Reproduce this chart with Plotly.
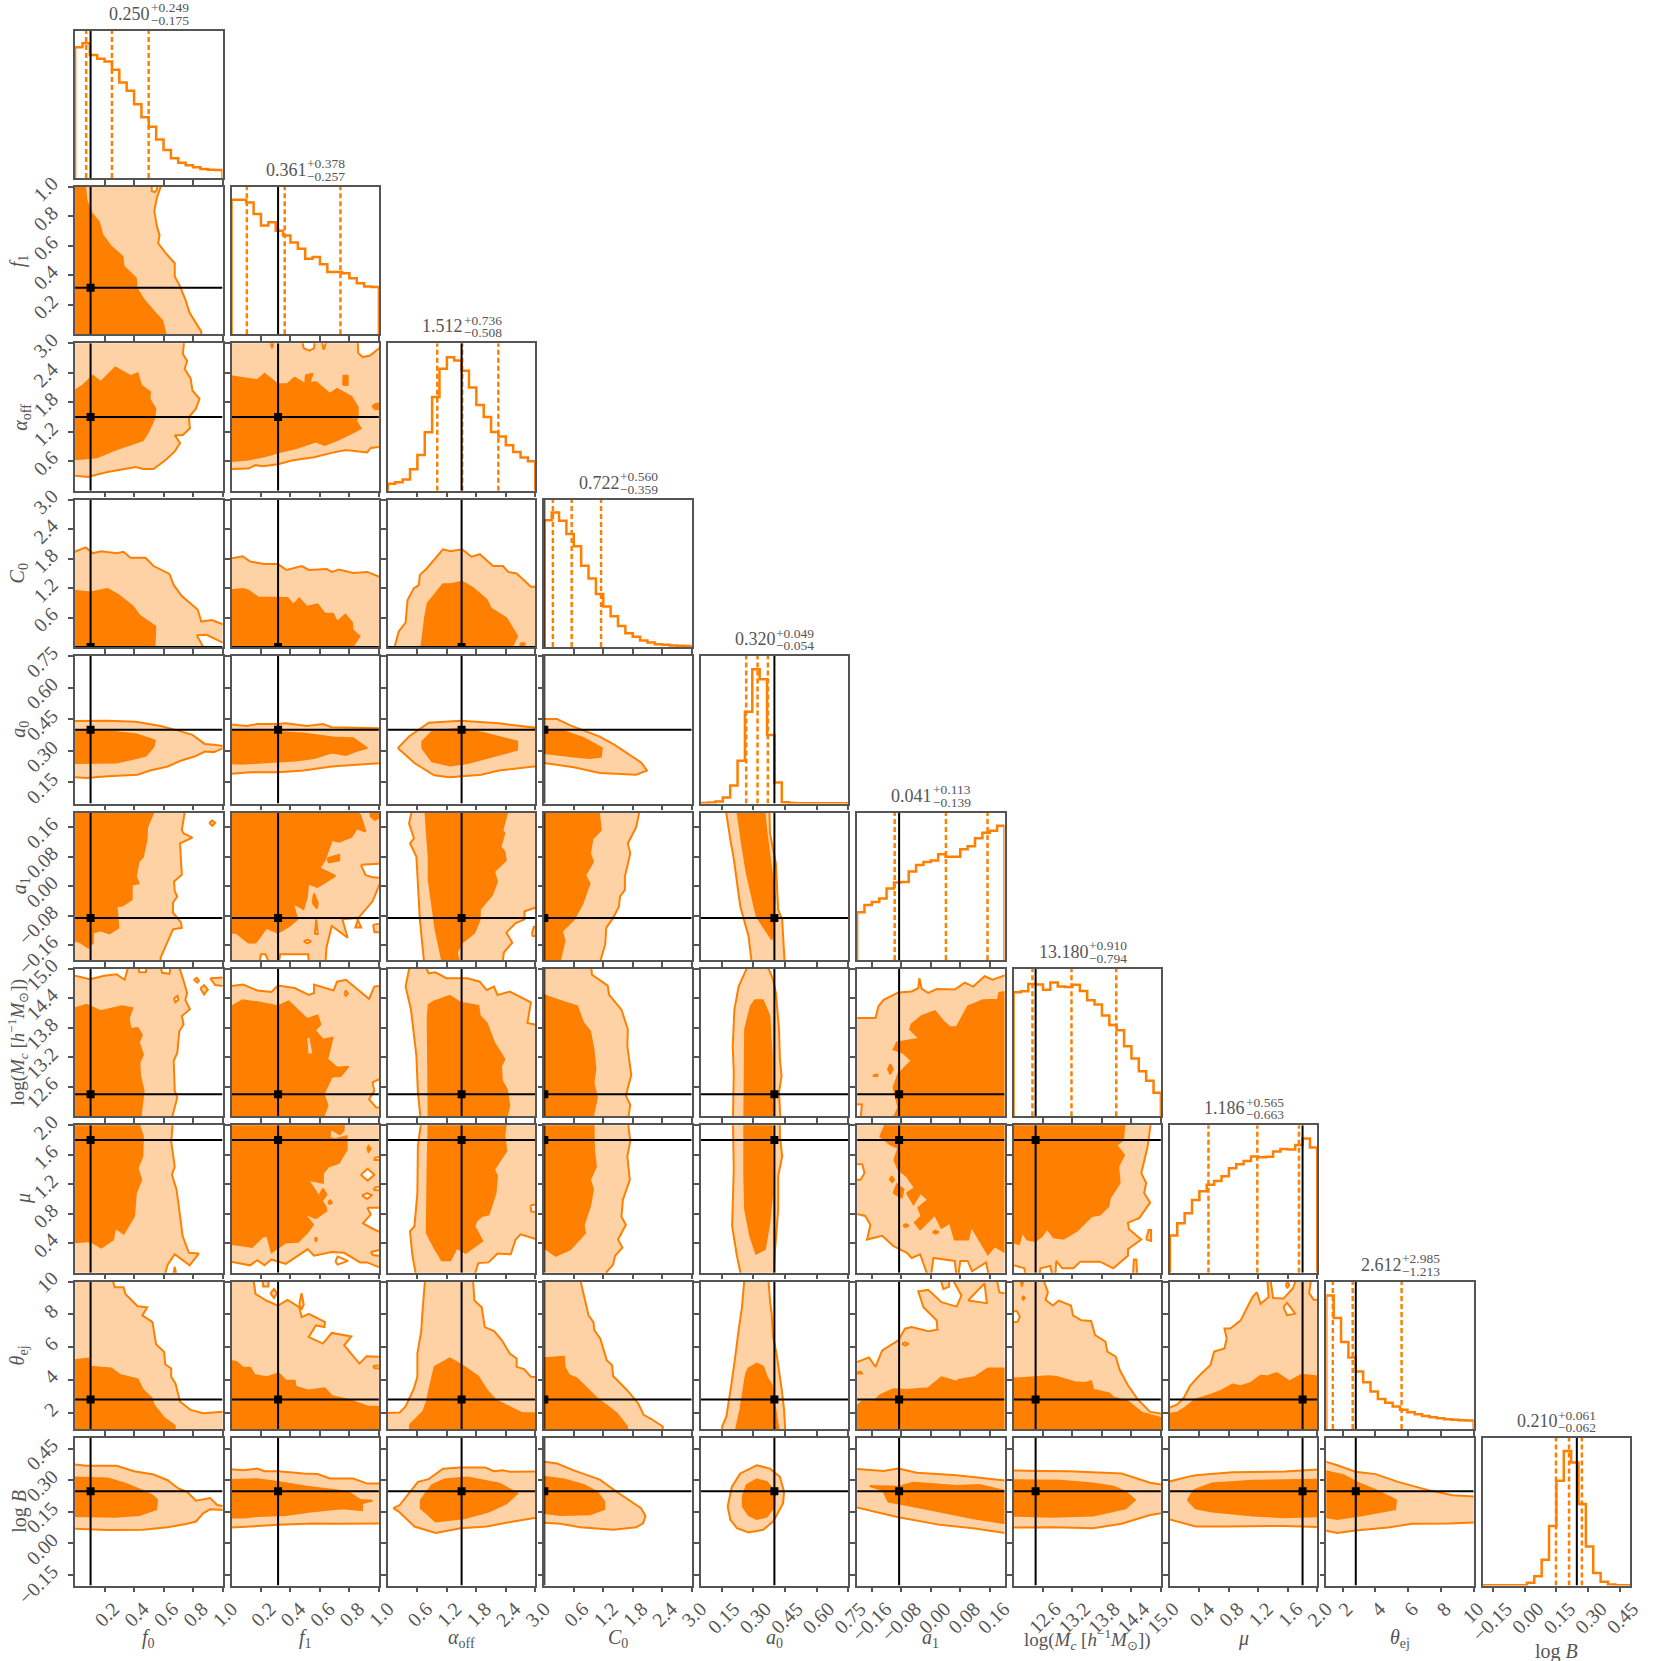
import numpy as np
import plotly.graph_objects as go

SIZE = 1661
ORANGE = "#ff7f00"
LIGHT = "#ffd2a6"
GREY = "#555555"
TEXT = "#555555"
SERIF = "Liberation Serif"
TICK_SIZE = 20

params = ["f0", "f1", "alpha", "C0", "a0", "a1", "Mc", "mu", "th", "B"]
ranges = [(0, 1), (0, 1), (0, 3), (0, 3), (0.05, 0.75), (-0.2, 0.2), (12, 15), (0, 2), (1, 10), (-0.2, 0.5)]
truths = [0.105, 0.316, 1.5, 0.0, 0.4, -0.086, 12.45, 1.8, 2.8, 0.247]
labels = ["<i>f</i><sub>0</sub>", "<i>f</i><sub>1</sub>", "<i>α</i><sub>off</sub>", "<i>C</i><sub>0</sub>",
          "<i>a</i><sub>0</sub>", "<i>a</i><sub>1</sub>",
          "log(<i>M</i><sub><i>c</i></sub> [<i>h</i><sup>−1</sup><i>M</i><sub>⊙</sub>])",
          "<i>μ</i>", "<i>θ</i><sub>ej</sub>", "log <i>B</i>"]
tick_vals = [[0.2, 0.4, 0.6, 0.8, 1.0], [0.2, 0.4, 0.6, 0.8, 1.0], [0.6, 1.2, 1.8, 2.4, 3.0], [0.6, 1.2, 1.8, 2.4, 3.0],
             [0.15, 0.30, 0.45, 0.60, 0.75], [-0.16, -0.08, 0.0, 0.08, 0.16], [12.6, 13.2, 13.8, 14.4, 15.0],
             [0.4, 0.8, 1.2, 1.6, 2.0], [2, 4, 6, 8, 10], [-0.15, 0.0, 0.15, 0.30, 0.45]]
tick_text = [["0.2", "0.4", "0.6", "0.8", "1.0"], ["0.2", "0.4", "0.6", "0.8", "1.0"],
             ["0.6", "1.2", "1.8", "2.4", "3.0"], ["0.6", "1.2", "1.8", "2.4", "3.0"],
             ["0.15", "0.30", "0.45", "0.60", "0.75"], ["−0.16", "−0.08", "0.00", "0.08", "0.16"],
             ["12.6", "13.2", "13.8", "14.4", "15.0"], ["0.4", "0.8", "1.2", "1.6", "2.0"],
             ["2", "4", "6", "8", "10"], ["−0.15", "0.00", "0.15", "0.30", "0.45"]]

title_med = ["0.250", "0.361", "1.512", "0.722", "0.320", "0.041", "13.180", "1.186", "2.612", "0.210"]
title_hi = ["+0.249", "+0.378", "+0.736", "+0.560", "+0.049", "+0.113", "+0.910", "+0.565", "+2.985", "+0.061"]
title_lo = ["−0.175", "−0.257", "−0.508", "−0.359", "−0.054", "−0.139", "−0.794", "−0.663", "−1.213", "−0.062"]
# dashed lines as drawn; the C0 ones do not sit where its title says
q16 = [0.075, 0.104, 1.004, 0.175, 0.266, -0.098, 12.386, 0.523, 1.399, 0.148]
q50 = [0.250, 0.361, 1.512, 0.557, 0.320, 0.041, 13.180, 1.186, 2.612, 0.210]
q84 = [0.499, 0.739, 2.248, 1.155, 0.369, 0.154, 14.090, 1.751, 5.597, 0.271]

# histogram heights, as a fraction of the panel height
hist_f0 = [.886, .913, .834, .808, .79, .734, .647, .591, .499, .412, .347, .26, .19, .134, .103, .085, .072, .06, .056, .054]
hist_f1 = [.913, .913, .895, .816, .738, .76, .702, .67, .623, .581, .513, .525, .475, .423, .423, .414, .381, .347, .325, .321]
hist_alpha = [.047, .058, .076, .145, .242, .396, .635, .828, .906, .884, .814, .7, .582, .5, .398, .367, .309, .262, .226, .199]
hist_C0 = [.861, .913, .857, .767, .684, .552, .466, .361, .276, .209, .143, .094, .07, .045, .031, .02, .016, .011, .009, .007]
hist_a0 = [.004, .007, .013, .04, .122, .29, .622, .91, .843, .465, .142, .009, .004, .002, .002, .002, .002, .002, .002, .002]
hist_a1 = [.323, .372, .392, .417, .484, .525, .529, .599, .643, .664, .675, .717, .7, .7, .751, .771, .825, .863, .877, .91]
hist_Mc = [.841, .848, .897, .895, .859, .908, .881, .877, .892, .85, .787, .758, .684, .619, .583, .475, .392, .305, .242, .159]
hist_mu = [.252, .335, .404, .494, .553, .596, .622, .654, .708, .735, .757, .789, .784, .787, .822, .84, .836, .867, .91, .849]
hist_th = [.906, .754, .591, .485, .391, .318, .255, .204, .179, .154, .132, .114, .101, .089, .081, .074, .067, .063, .06, .058]
hist_B = [.002, .002, .002, .002, .002, .002, .018, .063, .175, .404, .71, .912, .834, .553, .265, .085, .025, .007, .002, .002]

# contour outlines, (x, y) in data units
f1_f0_outer = [(0, 1), (.592, 1), (.556, .93), (.537, .836), (.556, .729), (.573, .673), (.564, .617), (.616, .549), (.676, .482), (.676, .392), (.712, .325), (.748, .235), (.777, .146), (.856, .018), (.856, 0), (0, 0)]
f1_f0_inner = [(0, 1), (.065, 1), (.077, .908), (.113, .818), (.161, .762), (.185, .673), (.245, .594), (.321, .527), (.329, .46), (.412, .381), (.417, .314), (.465, .235), (.532, .157), (.592, .09), (.621, 0), (0, 0)]
f1_f0_holes = [[(.52, 1), (.52, .97), (.54, .965), (.555, .98), (.555, 1)]]

alpha_f0_outer = [(0, 3), (.741, 3), (.731, 2.78), (.76, 2.64), (.743, 2.48), (.784, 2.28), (.796, 2.04), (.844, 1.87), (.82, 1.67), (.772, 1.5), (.779, 1.27), (.729, 1.13), (.676, 1.13), (.712, .97), (.676, .8), (.616, .63), (.532, .44), (.46, .44), (.412, .48), (.316, .43), (.22, .38), (.149, .33), (.089, .28), (0, .31)]
alpha_f0_inner = [(0, 1.99), (.053, 2.14), (.12, 2.34), (.173, 2.21), (.273, 2.51), (.376, 2.33), (.424, 2.39), (.448, 2.14), (.508, 2.01), (.504, 1.87), (.544, 1.67), (.537, 1.47), (.496, 1.2), (.46, 1.03), (.364, .93), (.269, .83), (.149, .68), (0, .63)]

alpha_f1_outer = [(0, .44), (.115, .45), (.163, .52), (.212, .5), (.315, .54), (.416, .62), (.56, .68), (.68, .77), (.776, .83), (.92, .78), (.944, .87), (1, .9), (1, 3), (0, 3)]
alpha_f1_inner = [(0, 2.34), (.175, 2.25), (.224, 2.38), (.315, 2.16), (.38, 2.17), (.428, 2.3), (.5, 2.17), (.572, 2.21), (.668, 1.97), (.716, 2.07), (.813, 1.91), (.856, 1.7), (.856, 1.5), (.844, 1.42), (.877, 1.27), (.788, 1.13), (.716, 1.03), (.632, .93), (.572, 1.0), (.44, .87), (.344, .8), (.224, .7), (.103, .63), (0, .6)]
alpha_f1_holes = [[(.476, 3), (.49, 2.9), (.53, 2.85), (.56, 2.9), (.565, 3)], [(.608, 3), (.625, 2.87), (.65, 3)], [(.856, 3), (.86, 2.8), (.89, 2.72), (.94, 2.75), (.98, 2.85), (1, 2.97), (1, 3)], [(.26, 3), (.275, 2.9), (.29, 3)]]
alpha_f1_blobs = [[(.5, 2.18), (.505, 2.35), (.55, 2.38), (.53, 2.2)], [(.757, 2.15), (.76, 2.34), (.788, 2.34), (.788, 2.15)], [(.955, 1.72), (.98, 1.77), (1, 1.77), (1, 1.67), (.975, 1.66)]]

C0_f0_outer = [(0, 1.91), (.072, 2.03), (.12, 1.91), (.177, 1.95), (.281, 1.91), (.328, 1.94), (.376, 1.82), (.477, 1.82), (.532, 1.65), (.64, 1.49), (.669, 1.26), (.724, 1.04), (.832, .76), (.856, .52), (.928, .55), (1, .43), (1, 0), (0, 0)]
C0_f0_inner = [(0, 1.16), (.1, 1.11), (.221, 1.18), (.293, 1.06), (.393, .82), (.436, .64), (.544, .42), (.537, 0), (0, 0)]
C0_f0_holes = [[(.825, .24), (.892, .25), (1, .05), (1, 0), (.887, 0)]]

C0_f1_outer = [(0, 1.79), (.075, 1.85), (.127, 1.74), (.224, 1.69), (.315, 1.69), (.373, 1.57), (.476, 1.65), (.524, 1.57), (.644, 1.59), (.68, 1.53), (.728, 1.58), (.825, 1.51), (.921, 1.53), (1, 1.4), (1, 0), (0, 0)]
C0_f1_inner = [(0, 1.15), (.079, 1.18), (.115, 1.15), (.18, 1.01), (.38, 1.0), (.42, .86), (.459, .99), (.512, .82), (.584, .87), (.632, .68), (.688, .68), (.716, .51), (.772, .66), (.817, .5), (.82, .35), (.868, .22), (.8, 0), (0, 0)]

C0_alpha_outer = [(.11, 0), (.22, .32), (.36, .5), (.4, .96), (.53, 1.2), (.63, 1.26), (.65, 1.47), (.79, 1.6), (1.12, 1.99), (1.27, 1.95), (1.51, 1.99), (1.7, 1.84), (1.87, 1.89), (2.14, 1.65), (2.34, 1.65), (2.45, 1.53), (2.62, 1.5), (2.91, 1.23), (3, 1.23), (3, 0)]
C0_alpha_inner = [(.67, 0), (.76, .62), (.81, .89), (1.12, 1.28), (1.27, 1.28), (1.51, 1.33), (1.73, 1.2), (2.01, .96), (2.09, .79), (2.41, .59), (2.63, .22), (2.48, 0)]
C0_alpha_blobs = [[(2.7, .08), (2.78, .08), (2.78, 0), (2.7, 0)]]

a0_f0_outer = [(0, .442), (.221, .443), (.412, .438), (.58, .418), (.7, .396), (.796, .376), (.88, .333), (.94, .329), (1, .32), (.94, .294), (.88, .297), (.81, .273), (.72, .254), (.628, .226), (.508, .207), (.424, .187), (.221, .179), (.077, .171), (0, .176)]
a0_f0_inner = [(0, .396), (.125, .396), (.281, .388), (.412, .379), (.54, .349), (.532, .321), (.48, .277), (.388, .261), (.281, .245), (0, .242)]

a0_f1_outer = [(0, .427), (.103, .418), (.175, .427), (.315, .427), (.368, .431), (.512, .418), (.62, .427), (.68, .412), (1, .407), (1, .242), (.849, .234), (.68, .226), (.488, .207), (.315, .198), (.127, .198), (0, .19)]
a0_f1_inner = [(0, .396), (.293, .391), (.488, .383), (.692, .363), (.825, .36), (.92, .313), (.849, .3), (.776, .281), (.68, .292), (.56, .266), (.44, .254), (.315, .25), (.079, .239), (0, .242)]

a0_alpha_outer = [(.2, .313), (.43, .368), (.83, .434), (1.48, .443), (2.26, .431), (3, .407), (3, .229), (2.26, .207), (1.9, .187), (1.26, .175), (.94, .184), (.54, .242)]
a0_alpha_inner = [(.7, .313), (.7, .344), (.9, .391), (1.48, .407), (1.98, .383), (2.63, .344), (2.63, .305), (2.12, .273), (1.62, .242), (1.26, .231), (.9, .25)]

a0_C0_outer = [(0, .451), (.26, .451), (.54, .42), (1.13, .368), (1.43, .328), (1.97, .245), (2.09, .207), (1.87, .187), (1.13, .195), (.6, .222), (0, .245)]
a0_C0_inner = [(0, .396), (.33, .399), (.8, .36), (1.17, .313), (1.15, .273), (.93, .266), (.6, .273), (0, .292)]

a1_f0_outer = [(0, .2), (.748, .2), (.724, .152), (.736, .143), (.796, .132), (.712, .116), (.724, .031), (.671, .013), (.676, -.014), (.693, -.028), (.664, -.045), (.664, -.072), (.719, -.099), (.724, -.113), (.664, -.117), (.58, -.194), (.58, -.2), (0, -.2)]
a1_f0_inner = [(0, .2), (.544, .2), (.489, .161), (.484, .125), (.46, .08), (.431, .067), (.412, .027), (.431, .008), (.384, .004), (.384, -.036), (.317, -.053), (.281, -.054), (.293, -.113), (.233, -.128), (.173, -.12), (.12, -.126), (.12, -.153), (.089, -.167), (.041, -.153), (0, -.144)]
a1_f0_lobes = [[(.91, .172), (.93, .178), (.95, .172), (.93, .164)]]

a1_f1_outer = [(0, .2), (1, .2), (1, .03), (.957, -.041), (.861, -.086), (.84, -.112), (.88, -.112), (.85, -.086), (.752, -.09), (.788, -.14), (.68, -.108), (.644, -.167), (.637, -.2), (0, -.2)]
a1_f1_inner = [(0, .2), (.813, .2), (.873, .193), (.909, .148), (.849, .157), (.813, .134), (.728, .121), (.68, .125), (.632, .071), (.596, .049), (.704, .028), (.644, .013), (.584, -.002), (.519, .007), (.512, -.027), (.488, -.062), (.416, -.045), (.445, -.09), (.392, -.108), (.315, -.126), (.236, -.113), (.163, -.153), (.115, -.153), (.031, -.126), (0, -.126)]
a1_f1_holes = [[(.878, .058), (.91, .03), (.96, .024), (1, .022), (1, .062)], [(.187, -.2), (.2, -.185), (.23, -.185), (.26, -.2)], [(.32, -.2), (.33, -.185), (.52, -.185), (.525, -.2)], [(.565, -.13), (.575, -.09), (.585, -.13)], [(.49, -.15), (.515, -.145), (.54, -.15), (.515, -.155)]]
a1_f1_lobes = [[(.96, -.105), (1, -.1), (1, -.125), (.97, -.125)]]
a1_f1_blobs = [[(.94, .2), (.945, .19), (.97, .18), (1, .19), (1, .2)], [(.65, .075), (.73, .085), (.73, .07), (.66, .065)], [(.55, -.045), (.56, -.02), (.585, -.045), (.58, -.06)]]

a1_alpha_outer = [(.5, .2), (.43, .17), (.53, .13), (.45, .116), (.58, .08), (.61, .008), (.65, -.09), (.74, -.2), (2.33, -.2), (2.36, -.18), (2.53, -.153), (2.41, -.126), (2.6, -.1), (2.78, -.09), (2.78, -.068), (3, -.054), (3, .2)]
a1_alpha_inner = [(.76, .2), (.79, .152), (.83, .08), (.83, .018), (.97, -.117), (1.12, -.2), (1.46, -.2), (1.4, -.18), (1.51, -.153), (1.76, -.126), (1.87, -.09), (1.87, -.063), (2.12, -.023), (2.22, .013), (2.16, .04), (2.4, .071), (2.37, .094), (2.29, .107), (2.37, .143), (2.33, .152), (2.45, .2)]
a1_alpha_lobes = [[(2.93, -.13), (2.97, -.11), (3, -.11), (3, -.136), (2.95, -.135)]]

a1_C0_outer = [(1.95, .2), (1.87, .16), (1.7, .116), (1.75, .089), (1.64, .026), (1.64, -.01), (1.54, -.028), (1.52, -.055), (1.4, -.086), (1.26, -.113), (1.24, -.158), (1.12, -.2), (0, -.2), (0, .2)]
a1_C0_inner = [(1.1, .2), (1.15, .152), (.98, .129), (.93, .089), (.99, .066), (.83, .03), (.92, .008), (.78, -.046), (.6, -.09), (.36, -.122), (.41, -.149), (.3, -.2), (0, -.2), (0, .2)]

a1_a0_outer = [(.168, .2), (.191, .125), (.207, .075), (.238, -.055), (.277, -.135), (.293, -.2), (.449, -.2), (.437, -.091), (.418, -.064), (.407, .062), (.379, .143), (.376, .2)]
a1_a0_inner = [(.222, .2), (.246, .116), (.269, .035), (.316, -.082), (.387, -.144), (.394, -.135), (.402, -.028), (.363, .143), (.351, .2)]

Mc_f0_outer = [(0, 14.88), (.101, 14.79), (.197, 14.86), (.281, 14.89), (.336, 14.78), (.365, 15), (.7, 15), (.736, 14.76), (.76, 14.51), (.748, 14.37), (.779, 14.18), (.724, 14.04), (.736, 13.87), (.707, 13.73), (.693, 13.29), (.669, 13.13), (.676, 12.52), (.693, 12.38), (.652, 12), (0, 12)]
Mc_f0_inner = [(0, 14.17), (.077, 14.27), (.173, 14.14), (.317, 14.24), (.388, 14.2), (.364, 14), (.376, 13.77), (.424, 13.8), (.453, 13.66), (.432, 13.5), (.46, 13.26), (.436, 13.09), (.441, 12.82), (.465, 12.52), (.441, 12), (0, 12)]
Mc_f0_holes = [[(.43, 15), (.435, 14.93), (.48, 14.93), (.485, 15)], [(.577, 15), (.59, 14.92), (.64, 14.9), (.65, 15)], [(.67, 14.4), (.695, 14.45), (.7, 14.37), (.68, 14.32)]]
Mc_f0_lobes = [[(.916, 14.81), (1, 14.83), (1, 14.64), (.95, 14.67)], [(.805, 14.78), (.825, 14.82), (.84, 14.76), (.83, 14.72)], [(.85, 14.6), (.875, 14.67), (.9, 14.58), (.875, 14.48)]]

Mc_f1_outer = [(0, 14.64), (.079, 14.68), (.175, 14.56), (.271, 14.53), (.315, 14.66), (.428, 14.61), (.524, 14.47), (.56, 14.51), (.56, 14.68), (.692, 14.56), (.716, 14.74), (.776, 14.78), (.933, 14.39), (.969, 14.64), (1, 14.66), (1, 12), (0, 12)]
Mc_f1_inner = [(0, 14.18), (.075, 14.36), (.175, 14.32), (.315, 14.24), (.387, 14.34), (.512, 13.98), (.584, 14.05), (.603, 13.87), (.565, 13.75), (.62, 13.56), (.685, 13.6), (.649, 13.16), (.716, 12.99), (.793, 13.01), (.74, 12.82), (.68, 12.81), (.625, 12.45), (.651, 12.22), (.613, 12), (0, 12)]
Mc_f1_holes = [[(1, 12.79), (.957, 12.69), (.969, 12.52), (.933, 12.35), (.981, 12.18), (1, 12.18)], [(.765, 14.5), (.775, 14.55), (.79, 14.5), (.775, 14.45)]]
Mc_f1_slivers = [[(.522, 13.59), (.528, 13.3), (.54, 13.3)]]

Mc_alpha_outer = [(.45, 15), (.36, 14.64), (.47, 14.17), (.58, 13.23), (.61, 12.49), (.67, 12), (3, 12), (3, 13.85), (2.84, 13.9), (2.91, 14.32), (2.48, 14.54), (2.23, 14.47), (2.16, 14.64), (2.01, 14.57), (1.87, 14.74), (1.62, 14.81), (1.19, 14.81), (.97, 14.93), (.83, 14.91), (.75, 15)]
Mc_alpha_inner = [(.83, 12), (.81, 14), (.83, 14.27), (.94, 14.34), (1.26, 14.45), (1.48, 14.31), (1.84, 14.25), (1.87, 14.04), (2.01, 13.9), (2.16, 13.5), (2.37, 13.16), (2.3, 13.02), (2.32, 12.72), (2.42, 12.55), (2.47, 12.22), (2.4, 12)]

Mc_C0_outer = [(.95, 15), (.97, 14.88), (1.29, 14.66), (1.32, 14.47), (1.57, 14.17), (1.7, 13.77), (1.69, 13.43), (1.77, 12.84), (1.66, 12.42), (1.75, 12.23), (1.7, 12), (0, 12), (0, 15)]
Mc_C0_inner = [(0, 14.49), (.4, 14.32), (.67, 14.24), (.79, 13.9), (.93, 13.73), (1, 13.36), (1.04, 12.96), (1, 12.69), (1.07, 12.38), (.97, 12), (0, 12)]

Mc_a0_outer = [(.277, 15), (.23, 14.64), (.21, 14.17), (.202, 13.43), (.207, 12.89), (.203, 12), (.429, 12), (.422, 12.49), (.434, 12.82), (.426, 13.16), (.422, 13.77), (.407, 14.51), (.392, 14.81), (.363, 15)]
Mc_a0_inner = [(.257, 12), (.261, 13.77), (.288, 14.24), (.308, 14.36), (.345, 14.36), (.376, 14.04), (.387, 13.23), (.387, 12.62), (.394, 12)]

Mc_a1_outer = [(-.2, 14), (-.15, 14), (-.142, 14.24), (-.128, 14.37), (-.088, 14.52), (-.052, 14.54), (-.034, 14.61), (-.031, 14.81), (-.025, 14.6), (-.007, 14.51), (.016, 14.59), (.065, 14.58), (.092, 14.72), (.115, 14.64), (.146, 14.85), (.168, 14.78), (.2, 14.9), (.2, 12), (-.2, 12)]
Mc_a1_inner = [(-.104, 12), (-.088, 12.18), (-.101, 12.59), (-.088, 12.86), (-.052, 13.13), (-.074, 13.29), (-.101, 13.36), (-.092, 13.5), (-.079, 13.52), (-.031, 13.58), (-.056, 13.77), (-.052, 13.87), (-.025, 14.04), (.011, 14.14), (.034, 13.93), (.052, 13.81), (.07, 13.81), (.101, 14.24), (.142, 14.36), (.182, 14.37), (.186, 14.51), (.2, 14.54), (.2, 12)]
Mc_a1_holes = [[(-.2, 12.25), (-.187, 12.24), (-.191, 12), (-.2, 12)]]
Mc_a1_blobs = [[(-.11, 13.06), (-.103, 12.96), (-.11, 12.86), (-.116, 12.96)], [(-.155, 12.84), (-.145, 12.85), (-.145, 12.82), (-.155, 12.82)]]

mu_f0_outer = [(0, 2), (.664, 2), (.652, 1.78), (.676, 1.44), (.657, 1.33), (.688, 1.13), (.712, .77), (.729, .5), (.772, .27), (.839, .26), (.777, .1), (.676, .25), (.628, .11), (.604, 0), (0, 0)]
mu_f0_inner = [(0, 2), (.424, 2), (.46, 1.85), (.456, 1.58), (.424, 1.42), (.448, 1.26), (.412, 1.08), (.4, .77), (.329, .53), (.273, .61), (.257, .45), (.177, .34), (.101, .43), (0, .41)]
mu_f0_holes = [[(.665, 0), (.675, .08), (.69, 0)]]

mu_f1_outer = [(0, .16), (.127, .1), (.175, .17), (.224, .1), (.271, .18), (.368, .12), (.517, .32), (.56, .23), (.68, .28), (.764, .27), (.873, .14), (.921, .14), (1, .05), (1, 2), (0, 2)]
mu_f1_inner = [(0, 2), (.765, 2), (.76, 1.93), (.735, 1.88), (.7, 1.92), (.67, 1.95), (.665, 1.83), (.7, 1.81), (.781, 1.85), (.781, 1.67), (.728, 1.49), (.656, 1.44), (.62, 1.35), (.62, 1.22), (.519, 1.26), (.637, .9), (.644, .84), (.572, .74), (.488, .81), (.553, .65), (.512, .54), (.452, .42), (.368, .41), (.272, .28), (.243, .5), (.212, .49), (.139, .35), (0, .4)]
mu_f1_holes = [[(.921, .88), (1, .88), (1, .53), (.945, .61), (.892, .67), (.945, .79)], [(.877, 1.33), (.924, 1.41), (.969, 1.33), (.924, 1.25)], [(.885, 1.05), (.92, 1.08), (.952, 1.05), (.92, 1.0)], [(.965, 1.15), (1, 1.18), (1, 1.12), (.97, 1.12)], [(.97, 1.56), (1, 1.58), (1, 1.53), (.97, 1.53)], [(.945, .28), (1, .32), (1, .22), (.96, .24)], [(.705, .15), (.72, .22), (.79, .16), (.72, .11)]]
mu_f1_blobs = [[(.62, 1.14), (.644, 1.06), (.62, .99), (.6, 1.06)], [(.655, .96), (.67, .98), (.68, .95), (.665, .93)], [(.92, 1.68), (.93, 1.72), (.945, 1.68), (.93, 1.64)], [(.565, .45), (.572, .48), (.58, .45), (.572, .43)]]

mu_alpha_outer = [(.68, 2), (.61, 1.72), (.6, 1.08), (.54, .63), (.45, .56), (.5, .23), (.58, 0), (1.75, 0), (1.84, .13), (2.05, .14), (2.23, .26), (2.5, .25), (2.6, .45), (2.7, .52), (3, .44), (3, 2)]
mu_alpha_inner = [(.83, 2), (.81, 1.53), (.79, .54), (.96, .32), (1.1, .17), (1.27, .17), (1.4, .34), (1.58, .27), (1.92, .43), (1.76, .63), (1.8, .7), (1.91, .77), (2.05, .79), (2.19, 1.08), (2.22, 1.31), (2.16, 1.4), (2.41, 1.65), (2.37, 1.87), (2.41, 2)]
mu_alpha_holes = [[(2.9, .9), (2.93, .92), (3, .93), (3, .82), (2.92, .83)]]

mu_C0_outer = [(0, 2), (1.7, 2), (1.75, 1.78), (1.69, 1.58), (1.74, 1.26), (1.6, .99), (1.57, .76), (1.66, .65), (1.5, .45), (1.59, .34), (1.44, .23), (1.4, .11), (1.27, .01), (1.27, 0), (0, 0)]
mu_C0_inner = [(0, 2), (1, 2), (1.01, 1.67), (1.05, 1.44), (.93, 1.26), (.99, 1.13), (.93, .9), (.8, .65), (.83, .54), (.53, .32), (.23, .23), (0, .38)]

mu_a0_outer = [(.203, 2), (.207, 1.4), (.199, .63), (.222, .23), (.243, 0), (.398, 0), (.402, .27), (.418, .86), (.418, 1.31), (.437, 1.58), (.426, 1.85), (.426, 2)]
mu_a0_inner = [(.257, 2), (.257, 1.31), (.261, .86), (.285, .5), (.313, .26), (.355, .32), (.376, .68), (.39, 1.08), (.387, 2)]

mu_a1_outer = [(-.2, 2), (.2, 2), (.2, 0), (.158, 0), (.15, .14), (.112, .02), (.10, .16), (.08, .16), (.074, 0), (.07, 0), (.065, .16), (.007, .2), (0, 0), (-.007, 0), (-.029, .25), (-.052, .2), (-.065, .27), (-.101, .36), (-.132, .5), (-.173, .45), (-.164, .65), (-.178, .77), (-.2, .81)]
mu_a1_inner = [(-.119, 2), (-.137, 1.85), (-.11, 1.74), (-.088, 1.69), (-.099, 1.53), (-.088, 1.4), (-.065, 1.31), (-.043, 1.15), (-.007, .99), (-.034, .88), (-.025, .77), (-.043, .68), (-.029, .59), (-.002, .72), (.011, .79), (.029, .61), (.052, .68), (.065, .45), (.101, .45), (.11, .63), (.155, .25), (.173, .36), (.2, .25), (.2, 2)]
mu_a1_holes = [[(-.2, 1.47), (-.186, 1.47), (-.18, 1.35), (-.191, 1.26), (-.2, 1.26)]]
mu_a1_blobs = [[(-.101, 1.08), (-.092, 1.2), (-.074, 1.13), (-.079, 1.02)], [(-.065, 1.08), (-.043, 1.15), (-.031, 1.06), (-.047, .93)], [(-.112, 1.27), (-.105, 1.3), (-.1, 1.26), (-.105, 1.23)], [(-.075, .64), (-.068, .66), (-.06, .64), (-.068, .62)], [(.005, .55), (.012, .57), (.022, .55), (.012, .53)]]

mu_Mc_outer = [(12, 2), (14.8, 2), (14.73, 1.71), (14.6, 1.35), (14.7, 1.22), (14.66, 1.08), (14.78, .95), (14.56, .74), (14.33, .68), (14.35, .59), (14.6, .45), (14.33, .32), (14.33, .23), (14.03, .06), (13.76, .15), (13.36, .15), (13.22, .06), (12.99, .06), (12.87, .16), (12.85, 0), (12, 0)]
mu_Mc_inner = [(12, 2), (14.26, 2), (14.23, 1.8), (14.09, 1.73), (14.25, 1.6), (14.13, 1.44), (14.16, 1.22), (13.96, 1.01), (13.93, .9), (13.76, .79), (13.59, .77), (13.29, .57), (13.02, .46), (12.82, .48), (12.68, .6), (12.58, .5), (12.45, .43), (12.28, .45), (12.18, .55), (12.11, .39), (12, .43)]
mu_Mc_holes = [[(12.52, 0), (12.55, .06), (12.75, .09), (12.8, 0)], [(12, .12), (12.22, .06), (12.25, 0), (12, 0)]]
mu_Mc_lobes = [[(14.43, 0), (14.45, .18), (14.5, .18), (14.52, 0)], [(14.7, .45), (14.75, .58), (14.8, .58), (14.8, .43)]]

th_f0_outer = [(0, 10), (.249, 10), (.269, 9.66), (.329, 9.66), (.341, 9.25), (.424, 8.5), (.489, 8.44), (.456, 7.94), (.525, 7.53), (.549, 6.18), (.604, 5.71), (.611, 4.96), (.652, 4.7), (.652, 4.2), (.681, 3.79), (.712, 2.68), (.784, 2.17), (.868, 1.97), (1, 2.07), (1, 1), (0, 1)]
th_f0_inner = [(0, 5.17), (.089, 5.31), (.101, 4.8), (.245, 4.7), (.305, 4.3), (.424, 4.03), (.46, 3.39), (.52, 2.88), (.532, 2.48), (.604, 1.67), (.676, 1.2), (.676, 1), (0, 1)]

th_f1_outer = [(0, 10), (.147, 10), (.163, 9.25), (.236, 8.85), (.315, 8.54), (.38, 8.89), (.459, 8.44), (.476, 7.84), (.524, 8.04), (.635, 7.53), (.63, 7.23), (.572, 7.33), (.524, 6.62), (.62, 6.22), (.68, 6.87), (.813, 6.66), (.764, 6.12), (.868, 5), (.916, 5.45), (1, 5.41), (1, 1), (0, 1)]
th_f1_inner = [(0, 5.21), (.031, 5.1), (.079, 4.74), (.127, 4.74), (.156, 4.3), (.236, 4.16), (.32, 4.4), (.368, 3.95), (.428, 3.95), (.435, 3.59), (.524, 3.35), (.632, 3.49), (.68, 3.02), (.813, 2.74), (.921, 2.38), (1, 2.33), (1, 1), (0, 1)]
th_f1_holes = [[(.96, 4.85), (1, 4.9), (1, 4.7), (.97, 4.72)]]
th_f1_lobes = [[(.21, 10), (.215, 9.7), (.25, 9.7), (.253, 10)], [(.264, 9.29), (.288, 9.56), (.308, 9.29), (.288, 9.0)], [(.46, 8.6), (.475, 9.3), (.49, 8.6), (.475, 8.3)]]

th_alpha_outer = [(.76, 10), (.7, 8.04), (.68, 7.03), (.6, 5.61), (.6, 4.2), (.53, 3.49), (.36, 2.38), (.24, 2.01), (0, 1.97), (0, 1), (3, 1), (3, 4.16), (2.91, 4.2), (2.77, 4.66), (2.62, 4.8), (2.62, 5.31), (2.48, 5.61), (2.32, 6.42), (2.16, 6.99), (1.97, 7.23), (1.91, 8.44), (1.76, 8.85), (1.73, 10)]
th_alpha_inner = [(.45, 1), (.45, 1.26), (.72, 2.07), (.79, 2.68), (.95, 4.8), (1.26, 5.31), (1.51, 4.9), (1.84, 4.2), (2.01, 3.39), (2.19, 2.78), (2.45, 2.38), (2.73, 1.97), (3, 1.97), (3, 1)]

th_C0_outer = [(.72, 10), (.83, 8.85), (.9, 7.94), (1, 7.53), (1.02, 7.03), (1.14, 6.52), (1.27, 5.21), (1.38, 4.9), (1.4, 4.24), (1.68, 3.39), (1.91, 2.58), (2.02, 1.87), (2.17, 1.63), (2.41, 1.16), (2.41, 1), (0, 1), (0, 10)]
th_C0_inner = [(0, 5.31), (.4, 5.41), (.41, 4.8), (.5, 4.3), (.66, 4.1), (1.07, 2.88), (1.47, 1.97), (1.68, 1.16), (1.7, 1), (0, 1)]

th_a0_outer = [(.258, 10), (.246, 8.44), (.23, 7.03), (.214, 5.41), (.194, 3.59), (.172, 1.77), (.152, 1.16), (.152, 1), (.452, 1), (.446, 2.17), (.434, 3.49), (.41, 5.61), (.394, 6.62), (.387, 8.04), (.379, 8.85), (.371, 10)]
th_a0_inner = [(.214, 1), (.238, 2.17), (.266, 4.4), (.277, 4.7), (.316, 5), (.347, 4.8), (.363, 4.2), (.387, 3.69), (.422, 1)]

th_a1_outer = [(-.2, 5), (-.168, 5.37), (-.15, 4.8), (-.132, 5.81), (-.088, 6.42), (-.07, 7.13), (-.052, 7.23), (-.007, 6.97), (.018, 7.07), (.016, 7.63), (-.02, 8.44), (-.034, 9.41), (-.007, 9.5), (.029, 8.75), (.07, 8.48), (.083, 9.15), (.056, 10), (.2, 10), (.2, 1), (-.2, 1)]
th_a1_inner = [(-.2, 2.17), (-.186, 2.68), (-.155, 2.68), (-.137, 3.08), (-.101, 3.43), (-.065, 3.39), (-.007, 3.49), (.029, 4.16), (.07, 3.89), (.074, 4), (.119, 4.16), (.155, 4.7), (.2, 4.7), (.2, 1), (-.2, 1)]
th_a1_holes = [[(.101, 8.85), (.146, 9.9), (.152, 8.69)], [(.178, 10), (.186, 9.35), (.2, 9.25), (.2, 10)], [(-.078, 6.2), (-.07, 6.3), (-.06, 6.2), (-.07, 6.1)], [(-.2, 4.45), (-.19, 4.5), (-.187, 4.4), (-.2, 4.35)]]
th_a1_lobes = [[(.025, 10), (.034, 9.55), (.05, 9.7), (.05, 10)]]

th_Mc_outer = [(12, 10), (12.59, 10), (12.7, 9.36), (12.65, 8.89), (12.8, 8.55), (12.92, 8.85), (13.17, 8.55), (13.21, 7.95), (13.38, 7.64), (13.58, 7.6), (13.66, 6.74), (13.87, 6.34), (13.91, 5.73), (14.08, 5.43), (14.16, 4.62), (14.32, 3.72), (14.53, 2.81), (14.78, 2.05), (15, 1.91), (15, 1), (12, 1)]
th_Mc_inner = [(12, 4.07), (12.72, 4.22), (12.88, 4.18), (13.25, 3.86), (13.46, 3.82), (13.58, 3.92), (13.62, 3.41), (13.95, 3.18), (14.04, 2.92), (14.32, 2.71), (14.61, 2.0), (15, 1.6), (15, 1), (12, 1)]
th_Mc_holes = [[(12, 8.2), (12.07, 8.2), (12.13, 7.85), (12.08, 7.55), (12, 7.5)], [(12.13, 10), (12.17, 9.7), (12.22, 10)], [(12.17, 9), (12.2, 9.1), (12.23, 9), (12.2, 8.9)]]

th_mu_outer = [(0, 2.2), (.1, 2.51), (.19, 2.92), (.27, 3.62), (.41, 4.32), (.55, 4.92), (.6, 5.73), (.74, 5.93), (.77, 6.54), (.74, 7.14), (.82, 7.14), (.96, 7.64), (1.12, 9.06), (1.18, 9.36), (1.23, 8.65), (1.34, 9.06), (1.32, 10), (2, 10), (2, 1), (0, 1)]
th_mu_inner = [(0, 1.9), (.1, 2.0), (.21, 2.31), (.35, 2.81), (.57, 3.11), (.68, 3.31), (.85, 3.72), (.96, 3.62), (1.1, 3.82), (1.23, 4.26), (1.32, 4.22), (1.45, 4.42), (1.62, 3.92), (1.79, 4.32), (2, 4.18), (2, 1), (0, 1)]
th_mu_holes = [[(1.36, 10), (1.4, 9.0), (1.54, 8.97), (1.67, 9.6), (1.72, 10)], [(1.92, 10), (1.89, 9.3), (1.95, 8.9), (2, 8.9), (2, 10)], [(1.54, 8.45), (1.59, 8.71), (1.7, 8.05), (1.59, 7.95)]]
th_mu_lobes = [[(1.57, 9.85), (1.6, 9.95), (1.62, 9.8), (1.59, 9.6)]]

B_f0_outer = [(0, .376), (.077, .369), (.281, .369), (.4, .343), (.532, .327), (.628, .3), (.7, .261), (.76, .245), (.82, .203), (.916, .215), (.964, .182), (1, .175), (1, .158), (.916, .162), (.868, .143), (.82, .104), (.76, .093), (.628, .077), (.46, .065), (.221, .063), (0, .071)]
B_f0_inner = [(0, .313), (.221, .308), (.341, .284), (.448, .253), (.52, .229), (.556, .206), (.549, .162), (.436, .135), (.269, .127), (0, .13)]

B_f1_outer = [(0, .354), (.079, .347), (.175, .355), (.224, .343), (.315, .343), (.488, .332), (.584, .329), (.668, .308), (.825, .308), (.921, .284), (1, .284), (1, .095), (.728, .093), (.56, .095), (.315, .088), (.127, .08), (0, .075)]
B_f1_inner = [(0, .3), (.175, .305), (.315, .292), (.512, .269), (.608, .261), (.788, .245), (.873, .206), (.957, .203), (.885, .19), (.885, .158), (.752, .167), (.536, .151), (.368, .135), (.175, .13), (.079, .123), (0, .123)]

B_alpha_outer = [(.11, .167), (.24, .182), (.61, .292), (.83, .305), (1.12, .355), (1.48, .36), (1.98, .36), (2.16, .343), (2.34, .347), (2.48, .34), (3, .341), (3, .124), (2.55, .104), (2.01, .08), (1.48, .072), (.97, .049), (.54, .08), (.22, .151)]
B_alpha_inner = [(.67, .206), (.9, .277), (1.15, .303), (1.62, .313), (2.27, .284), (2.63, .237), (2.41, .19), (2.05, .151), (1.55, .119), (.97, .104), (.79, .143), (.67, .167)]

B_C0_outer = [(0, .39), (.26, .379), (.6, .347), (1.13, .303), (1.47, .245), (1.97, .167), (2.06, .13), (2.01, .095), (1.87, .077), (1.4, .065), (.73, .077), (.33, .093), (0, .099)]
B_C0_inner = [(0, .319), (.4, .303), (.8, .277), (1.07, .245), (1.22, .198), (1.22, .163), (.93, .138), (.33, .135), (0, .146)]

B_a0_outer = [(.178, .175), (.198, .269), (.238, .332), (.316, .371), (.379, .355), (.426, .316), (.446, .245), (.441, .19), (.394, .104), (.347, .065), (.277, .052), (.222, .072), (.191, .112)]
B_a0_inner = [(.249, .221), (.269, .277), (.316, .303), (.363, .292), (.402, .245), (.399, .175), (.363, .127), (.316, .116), (.277, .135), (.25, .175)]

B_a1_outer = [(-.2, .355), (-.155, .347), (-.128, .344), (-.088, .355), (-.038, .335), (.07, .324), (.2, .297), (.2, .046), (.115, .072), (.025, .088), (-.088, .124), (-.2, .175)]
B_a1_inner = [(-.166, .272), (-.088, .269), (-.047, .288), (.07, .272), (.132, .277), (.2, .245), (.2, .093), (.115, .119), (.025, .151), (-.065, .182), (-.115, .198), (-.13, .253)]

B_Mc_outer = [(12, .347), (12.55, .344), (13.13, .343), (14.2, .332), (14.78, .288), (15, .277), (15, .146), (14.78, .135), (14.2, .093), (13.62, .072), (12.8, .077), (12, .075)]
B_Mc_inner = [(12, .3), (12.96, .297), (13.62, .284), (14.04, .269), (14.28, .245), (14.47, .206), (14.28, .167), (13.62, .132), (12.8, .127), (12, .132)]

B_mu_outer = [(0, .289), (.24, .316), (.35, .324), (.85, .338), (1.56, .341), (2, .352), (2, .077), (1.56, .083), (.74, .08), (.35, .08), (0, .119)]
B_mu_inner = [(.24, .206), (.33, .253), (.57, .284), (1.12, .297), (2, .303), (2, .13), (1.56, .124), (1.12, .132), (.57, .151), (.35, .167)]

B_th_outer = [(1, .394), (1.67, .371), (2.78, .34), (4.02, .329), (5.37, .292), (7.23, .253), (8.71, .229), (10, .221), (10, .1), (8.47, .095), (6.24, .093), (4.76, .075), (2.78, .061), (1.67, .049), (1, .065)]
B_th_inner = [(1, .347), (2.04, .324), (3.03, .284), (4.02, .253), (5.25, .206), (5.2, .162), (3.27, .135), (1.67, .116), (1, .127)]

# the axis line sits just outside the domain, so the domain is a little smaller than the frame
X0, Y0, PITCH, WIDTH = 75.1, 30.5, 156.4, 147.4


def paper_x(px):
    return px / SIZE


def paper_y(px):
    return 1 - px / SIZE


def push(v, lo, hi):
    # vertices on the panel edge go just past it, so the outline is clipped there
    pad = 0.03 * (hi - lo)
    if v <= lo:
        return lo - pad
    if v >= hi:
        return hi + pad
    return v


def path(polys, rx, ry):
    xs, ys = [], []
    for poly in polys:
        closed = list(poly) + [poly[0]]
        xs += [push(p[0], *rx) for p in closed] + [None]
        ys += [push(p[1], *ry) for p in closed] + [None]
    return xs, ys


def label_shift(texts):
    # rotated labels end at the tick; move them back so they are centred on it
    widths = [sum(0.25 if c == "." else 0.564 if c == "−" else 0.5 for c in t) * TICK_SIZE for t in texts]
    return round(sum(widths) / len(widths) / 2 * 0.707)


fig = go.Figure()
annotations = []
layout_axes = {}
axis_no = 0


def add_fill(polys, color, line, rx, ry, suffix):
    if not polys:
        return
    xs, ys = path(polys, rx, ry)
    fig.add_trace(go.Scatter(x=xs, y=ys, mode="lines", fill="toself", fillcolor=color,
                             line=dict(color=line, width=2, simplify=False), hoverinfo="skip",
                             showlegend=False, xaxis="x" + suffix, yaxis="y" + suffix))


def add_line(xs, ys, suffix, color="black", width=2, dash="solid", shape="linear"):
    fig.add_trace(go.Scatter(x=xs, y=ys, mode="lines", line=dict(color=color, width=width, dash=dash, shape=shape, simplify=False),
                             hoverinfo="skip", showlegend=False, xaxis="x" + suffix, yaxis="y" + suffix))


for i, row in enumerate(params):
    for j in range(i + 1):
        col = params[j]
        axis_no += 1
        suffix = "" if axis_no == 1 else str(axis_no)
        left = X0 + j * PITCH
        top = Y0 + i * PITCH
        rx = ranges[j]
        diag = i == j
        ry = (0, 1) if diag else ranges[i]

        xaxis = dict(domain=[paper_x(left), paper_x(left + WIDTH)], range=list(rx), anchor="y" + suffix,
                     tickvals=tick_vals[j], ticktext=tick_text[j], ticks="outside", ticklen=5, tickwidth=1.5,
                     tickcolor=GREY, showline=True, mirror=True, linecolor=GREY, linewidth=1.5, automargin=False,
                     showgrid=False, zeroline=False, showticklabels=i == 9, tickangle=-45,
                     ticklabelshift=label_shift(tick_text[j]), ticklabelstandoff=-3,
                     tickfont=dict(family=SERIF, size=TICK_SIZE, color=TEXT))
        yaxis = dict(domain=[paper_y(top + WIDTH), paper_y(top)], range=list(ry), anchor="x" + suffix,
                     showline=True, mirror=True, linecolor=GREY, linewidth=1.5, automargin=False,
                     showgrid=False, zeroline=False, showticklabels=False)
        if not diag:
            yaxis.update(tickvals=tick_vals[i], ticktext=tick_text[i], ticks="outside", ticklen=5, tickwidth=1.5,
                         tickcolor=GREY, showticklabels=j == 0, tickangle=-45, ticklabelshift=-6, ticklabelstandoff=12,
                         tickfont=dict(family=SERIF, size=TICK_SIZE, color=TEXT))
        layout_axes["xaxis" + suffix] = xaxis
        layout_axes["yaxis" + suffix] = yaxis

        if diag:
            heights = globals()["hist_" + col]
            edges = np.linspace(rx[0], rx[1], 21)
            xs = [edges[0]] + list(edges)
            ys = [0] + list(heights) + [0]
            add_line(xs, ys, suffix, color=ORANGE, width=2.5, shape="hv")
            for q in (q16[j], q50[j], q84[j]):
                add_line([q, q], [0, 1], suffix, color=ORANGE, width=2.5, dash="5px,3px")
            add_line([truths[j], truths[j]], [0, 1], suffix)
            mid = left + WIDTH / 2
            annotations.append(dict(x=paper_x(mid + 3.5), y=paper_y(top - 17), text=title_med[j], xanchor="right",
                                    yanchor="middle", font=dict(size=18, family=SERIF, color=TEXT)))
            annotations.append(dict(x=paper_x(mid), y=paper_y(top - 23), text=title_hi[j], xanchor="left",
                                    yanchor="middle", font=dict(size=13.5, family=SERIF, color=TEXT)))
            annotations.append(dict(x=paper_x(mid), y=paper_y(top - 10.5), text=title_lo[j], xanchor="left",
                                    yanchor="middle", font=dict(size=13.5, family=SERIF, color=TEXT)))
            continue

        name = f"{row}_{col}"
        add_fill([globals()[name + "_outer"]], LIGHT, ORANGE, rx, ry, suffix)
        add_fill(globals().get(name + "_holes", []), "white", ORANGE, rx, ry, suffix)
        add_fill(globals().get(name + "_lobes", []), LIGHT, ORANGE, rx, ry, suffix)
        add_fill([globals()[name + "_inner"]], ORANGE, ORANGE, rx, ry, suffix)
        add_fill(globals().get(name + "_blobs", []), ORANGE, ORANGE, rx, ry, suffix)
        add_fill(globals().get(name + "_slivers", []), LIGHT, LIGHT, rx, ry, suffix)
        add_line([truths[j], truths[j]], list(ry), suffix)
        add_line(list(rx), [truths[i], truths[i]], suffix)
        fig.add_trace(go.Scatter(x=[truths[j]], y=[truths[i]], mode="markers",
                                 marker=dict(symbol="square", size=8, color="black"), hoverinfo="skip",
                                 showlegend=False, xaxis="x" + suffix, yaxis="y" + suffix))

label_y = [1638, 1638, 1638, 1638, 1638, 1638, 1639, 1638, 1638, 1651]
label_x = [18.6, 18.6, 20.7, 18, 20, 20, 18, 23, 18, 20]
label_size = [20, 20, 20, 20, 20, 20, 19, 20, 20, 20]
for k, label in enumerate(labels):
    annotations.append(dict(x=paper_x(X0 + k * PITCH + WIDTH / 2), y=paper_y(label_y[k]), text=label, xanchor="center",
                            yanchor="middle", font=dict(size=label_size[k], family=SERIF, color=TEXT)))
    if k > 0:
        annotations.append(dict(x=paper_x(label_x[k]), y=paper_y(Y0 + k * PITCH + WIDTH / 2), text=label, xanchor="center",
                                yanchor="middle", textangle=-90, font=dict(size=label_size[k], family=SERIF, color=TEXT)))
for a in annotations:
    a.update(xref="paper", yref="paper", showarrow=False)

fig.update_layout(width=SIZE, height=SIZE, margin=dict(l=0, r=0, t=0, b=0), autosize=False,
                  paper_bgcolor="white", plot_bgcolor="white", showlegend=False, annotations=annotations, **layout_axes)

fig.write_html("out.html", config={"displayModeBar": False}, post_script="document.body.style.margin = '0';")
